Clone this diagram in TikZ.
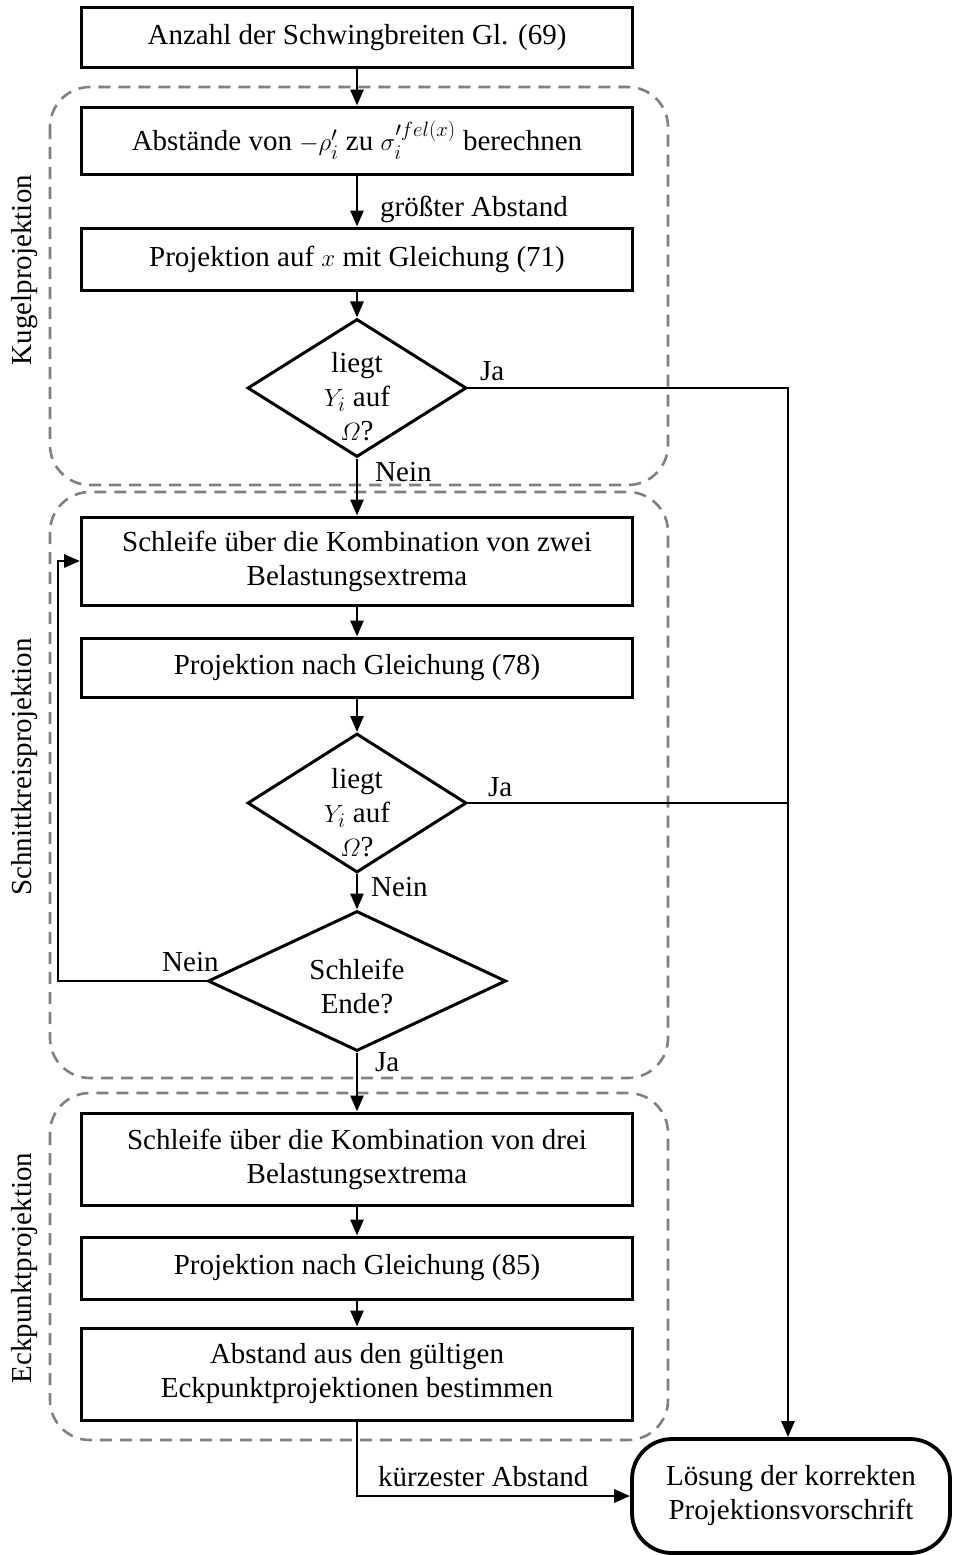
\documentclass[tikz,border=0pt]{standalone}
\usepackage{fontspec}
\usepackage{amsmath}
\setmainfont{Liberation Serif}
\usetikzlibrary{shapes.geometric,arrows.meta}
\definecolor{dgray}{RGB}{128,128,128}
\begin{document}
\begin{tikzpicture}[x=1pt,y=-1pt,
  font=\fontsize{29}{34}\selectfont,
  stepbox/.style={draw, line width=3pt, minimum width=551pt, inner sep=0pt, align=center},
  dia/.style={draw, diamond, line width=3pt, inner sep=0pt},
  diatext/.style={inner sep=0pt, align=center},
  grp/.style={draw=dgray, dash pattern=on 12pt off 8pt, line width=2.6pt, rounded corners=40pt},
  arr/.style={line width=2.8pt, -{Triangle[length=16pt,width=13pt]}},
  ln/.style={line width=2.8pt},
  lbl/.style={inner sep=0pt, anchor=base west},
  grplbl/.style={inner sep=0pt, anchor=base, rotate=90}
]
\useasboundingbox (0,0) rectangle (953,1555);

% groups
\draw[grp] (50,87) rectangle (668,485);
\draw[grp] (50,492) rectangle (668,1078);
\draw[grp] (50,1093) rectangle (668,1440);
\node[grplbl] (gk) at (31,270) {Kugelprojektion};
\node[grplbl] (gs) at (31,767) {Schnittkreisprojektion};
\node[grplbl] (ge) at (31,1268) {Eckpunktprojektion};

% boxes
\node[stepbox, minimum height=60pt] (b1) at (357,38) {Anzahl der Schwingbreiten Gl. (69)};
\node[stepbox, minimum height=67pt] (b2) at (357,140.5) {Abstände von $-\rho_i'$ zu $\sigma_i^{\prime fel(x)}$ berechnen};
\node[stepbox, minimum height=62pt] (b3) at (357,259) {Projektion auf $x$ mit Gleichung (71)};
\node[dia, minimum width=219pt, minimum height=138pt] (d1) at (357,388) {};
\node[diatext] (t1) at (357,397) {liegt\\$Y_i$ auf\\$\varOmega$?};
\node[stepbox, minimum height=88pt] (b4) at (357,561) {Schleife über die Kombination von zwei\\Belastungsextrema};
\node[stepbox, minimum height=59pt] (b5) at (357,667.5) {Projektion nach Gleichung (78)};
\node[dia, minimum width=219pt, minimum height=139pt] (d2) at (357,803) {};
\node[diatext] (t2) at (357,813) {liegt\\$Y_i$ auf\\$\varOmega$?};
\node[dia, minimum width=298pt, minimum height=140pt] (d3) at (357,981) {};
\node[diatext] (t3) at (357,986) {Schleife\\Ende?};
\node[stepbox, minimum height=92pt] (b6) at (357,1159) {Schleife über die Kombination von drei\\Belastungsextrema};
\node[stepbox, minimum height=62pt] (b7) at (357,1268) {Projektion nach Gleichung (85)};
\node[stepbox, minimum height=92pt] (b8) at (357,1374) {Abstand aus den gültigen\\Eckpunktprojektionen bestimmen};
\node[draw, line width=3.8pt, rounded corners=40pt, minimum width=318pt, minimum height=114pt, inner sep=0pt, align=center] (end) at (791,1496) {Lösung der korrekten\\Projektionsvorschrift};

% connectors
\coordinate (jr) at (788,388);
\coordinate (lp) at (58,981);
\draw[arr] (b1) -- (b2);
\draw[arr] (b2) -- (b3);
\draw[arr] (b3) -- (d1);
\draw[arr] (d1.south) -- (b4.north);
\draw[arr] (b4) -- (b5);
\draw[arr] (b5) -- (d2);
\draw[arr] (d2.south) -- (d3.north);
\draw[arr] (d3.south) -- (b6.north);
\draw[arr] (b6) -- (b7);
\draw[arr] (b7) -- (b8);
\draw[arr] (d1.east) -- (jr) -- (end.north -| jr);
\draw[ln] (d2.east) -- (d2.east -| jr);
\draw[arr] (d3.west) -- (lp) |- (b4.west);
\draw[arr] (b8.south) |- (end.west);

% labels
\node[lbl] (l1) at (380,216) {größter Abstand};
\node[lbl] (l2) at (480,380) {Ja};
\node[lbl] (l3) at (375,481) {Nein};
\node[lbl] (l4) at (488,796) {Ja};
\node[lbl] (l5) at (371,896) {Nein};
\node[lbl] (l6) at (162,971) {Nein};
\node[lbl] (l7) at (375,1071) {Ja};
\node[lbl] (l8) at (378,1486) {kürzester Abstand};
\end{tikzpicture}
\end{document}
